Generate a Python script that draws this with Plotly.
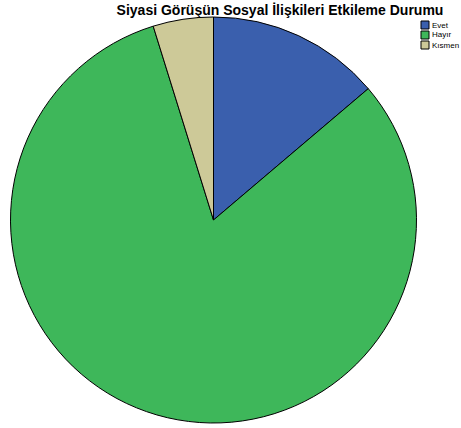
import plotly.graph_objects as go

labels = ["Evet", "Hayır", "Kısmen"]
values = [13.8, 81.4, 4.8]
colors = ["#3A5FAD", "#3EB75A", "#CDC998"]

W, H = 461, 428
fig = go.Figure(go.Pie(
    labels=labels, values=values, sort=False, direction="clockwise", rotation=0,
    marker=dict(colors=colors, line=dict(color="#000000", width=1)),
    textinfo="none", textposition="inside", hoverinfo="label+percent",
    domain=dict(x=[10.5 / W, 416.5 / W], y=[(H - 423) / H, (H - 17) / H]),
    showlegend=False,
))

# manual legend (keeps the pie area free of legend auto-margins)
shapes, annots = [], []
for i, (lab, col) in enumerate(zip(labels, colors)):
    top = 21 + i * 10
    shapes.append(dict(type="rect", xref="paper", yref="paper",
                       x0=421 / W, x1=429 / W, y0=1 - (top + 8) / H, y1=1 - top / H,
                       fillcolor=col, line=dict(color="#000000", width=1)))
    annots.append(dict(text=lab, xref="paper", yref="paper", x=430 / W, y=1 - (top + 4) / H,
                       xanchor="left", yanchor="middle", showarrow=False,
                       font=dict(size=8, family="Liberation Sans, Arial, sans-serif", color="#000000")))

fig.update_layout(
    width=W, height=H, margin=dict(l=0, r=0, t=0, b=0),
    paper_bgcolor="white", plot_bgcolor="white",
    font=dict(family="Liberation Sans, Arial, sans-serif", color="#000000"),
    title=dict(text="<b>Siyasi Görüşün Sosyal İlişkileri Etkileme Durumu</b>",
               x=280 / W, xanchor="center", y=1 - 10 / H, yanchor="middle",
               font=dict(size=14, family="Liberation Sans, Arial, sans-serif")),
    shapes=shapes, annotations=annots,
)
fig.write_html("out.html", config={"displayModeBar": False},
               post_script="document.body.style.margin='0';")
